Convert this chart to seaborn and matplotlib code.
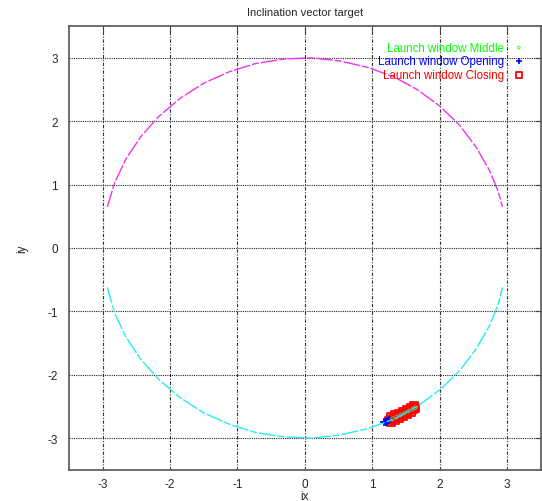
import numpy as np
import pandas as pd
import matplotlib
matplotlib.use("Agg")
import matplotlib.pyplot as plt
import seaborn as sns

# arcs of the target circle
upper_ix = [-2.93, -2.82, -2.65, -2.43, -2.16, -1.85, -1.50, -1.12, -0.73, -0.31, 0.10,
            0.52, 0.93, 1.32, 1.68, 2.01, 2.30, 2.54, 2.74, 2.87, 2.93]
upper_iy = [0.65, 1.03, 1.41, 1.76, 2.08, 2.36, 2.60, 2.78, 2.91, 2.98, 3.00,
            2.95, 2.85, 2.70, 2.49, 2.23, 1.93, 1.59, 1.22, 0.88, 0.65]
lower_ix = [-2.93, -2.82, -2.65, -2.43, -2.16, -1.85, -1.50, -1.12, -0.73, -0.31, 0.10,
            0.52, 0.93, 1.32, 1.68, 2.01, 2.30, 2.54, 2.74, 2.87, 2.93]
lower_iy = [-0.62, -1.03, -1.41, -1.76, -2.08, -2.36, -2.60, -2.78, -2.91, -2.98, -3.00,
            -2.95, -2.85, -2.70, -2.49, -2.23, -1.93, -1.59, -1.22, -0.88, -0.62]

# launch window points
middle_ix = [1.30, 1.36, 1.42, 1.48, 1.54, 1.60, 1.64]
middle_iy = [-2.695, -2.664, -2.633, -2.602, -2.571, -2.540, -2.518]
opening_ix = [1.18, 1.20, 1.22, 1.24]
opening_iy = [-2.75, -2.74, -2.73, -2.72]
closing_ix = [1.25, 1.28, 1.31, 1.34, 1.37, 1.40, 1.43, 1.46, 1.49, 1.52, 1.55, 1.58, 1.61, 1.64,
              1.27, 1.33, 1.39, 1.45, 1.51, 1.57, 1.62,
              1.28, 1.34, 1.40, 1.46, 1.52, 1.58]
closing_iy = [-2.72, -2.705, -2.689, -2.674, -2.658, -2.643, -2.627, -2.612, -2.597,
              -2.581, -2.566, -2.550, -2.535, -2.520,
              -2.670, -2.639, -2.608, -2.577, -2.546, -2.516, -2.490,
              -2.745, -2.714, -2.683, -2.652, -2.621, -2.590]

ticks = [-3, -2, -1, 0, 1, 2, 3]

sns.set_style("white")
plt.rcParams['font.family'] = ['Liberation Sans', 'DejaVu Sans']

fig = plt.figure(figsize=(5.42, 5.02), dpi=100)
ax = fig.add_axes([0.127, 0.062, 0.871, 0.884])

sns.scatterplot(x=closing_ix, y=closing_iy, marker='s', s=30, facecolor='none',
                edgecolor='#ff0000', linewidth=1.3, label='Launch window Closing', ax=ax, zorder=3)
sns.scatterplot(x=opening_ix, y=opening_iy, marker='+', s=40, color='#0000ff',
                linewidth=1.2, label='Launch window Opening', ax=ax, zorder=3)
sns.scatterplot(x=middle_ix, y=middle_iy, marker='D', s=5, facecolor='none',
                edgecolor='#77cc77', linewidth=0.5, label='Launch window Middle', ax=ax, zorder=4)

sns.lineplot(x=upper_ix, y=upper_iy, sort=False, color='#ee33ee', lw=1.0,
             linestyle=(0, (12, 1.5, 5, 1.5)), ax=ax, zorder=5)
sns.lineplot(x=lower_ix, y=lower_iy, sort=False, color='#22eeee', lw=1.0,
             linestyle=(0, (12, 1.5, 5, 1.5)), ax=ax, zorder=5)

ax.set_xlim(-3.5, 3.5)
ax.set_ylim(-3.5, 3.5)
ax.set_xticks(ticks)
ax.set_yticks(ticks)
ax.set_xticklabels([str(t) for t in ticks])
ax.set_yticklabels([str(t) for t in ticks])
ax.xaxis.grid(True, color='#333333', linestyle=(0, (3, 1.5, 1, 1.5)), lw=0.8)
ax.yaxis.grid(True, color='#222222', linestyle=(0, (1, 1)), lw=0.8)
ax.tick_params(axis='both', direction='in', length=4, width=0.8, color='#444444',
               labelsize=8.5, top=True, right=True)
ax.tick_params(axis='x', pad=6)
ax.tick_params(axis='y', pad=8)
for sp in ax.spines.values():
    sp.set_color('#555555')
    sp.set_linewidth(1.2)

ax.set_title('Inclination vector target', fontsize=8, pad=8)
ax.set_xlabel('ix', fontsize=8.5, labelpad=0)
ax.set_ylabel('iy', fontsize=8.5, labelpad=14)

h, l = ax.get_legend_handles_labels()
order = [2, 1, 0]
leg = ax.legend([h[i] for i in order], [l[i] for i in order], loc='upper right',
                bbox_to_anchor=(0.98, 0.983), frameon=False, markerfirst=False,
                fontsize=8.3, handlelength=0.8, handletextpad=0.9,
                labelspacing=0.15, borderpad=0.2, markerscale=0.75)
texts = leg.get_texts()
texts[0].set_color('#00ff00')
texts[1].set_color('#0000ff')
texts[2].set_color('#ff0000')
leg.legend_handles[0].set_edgecolor('#00ff00')

fig.savefig('out.png', dpi=100)
